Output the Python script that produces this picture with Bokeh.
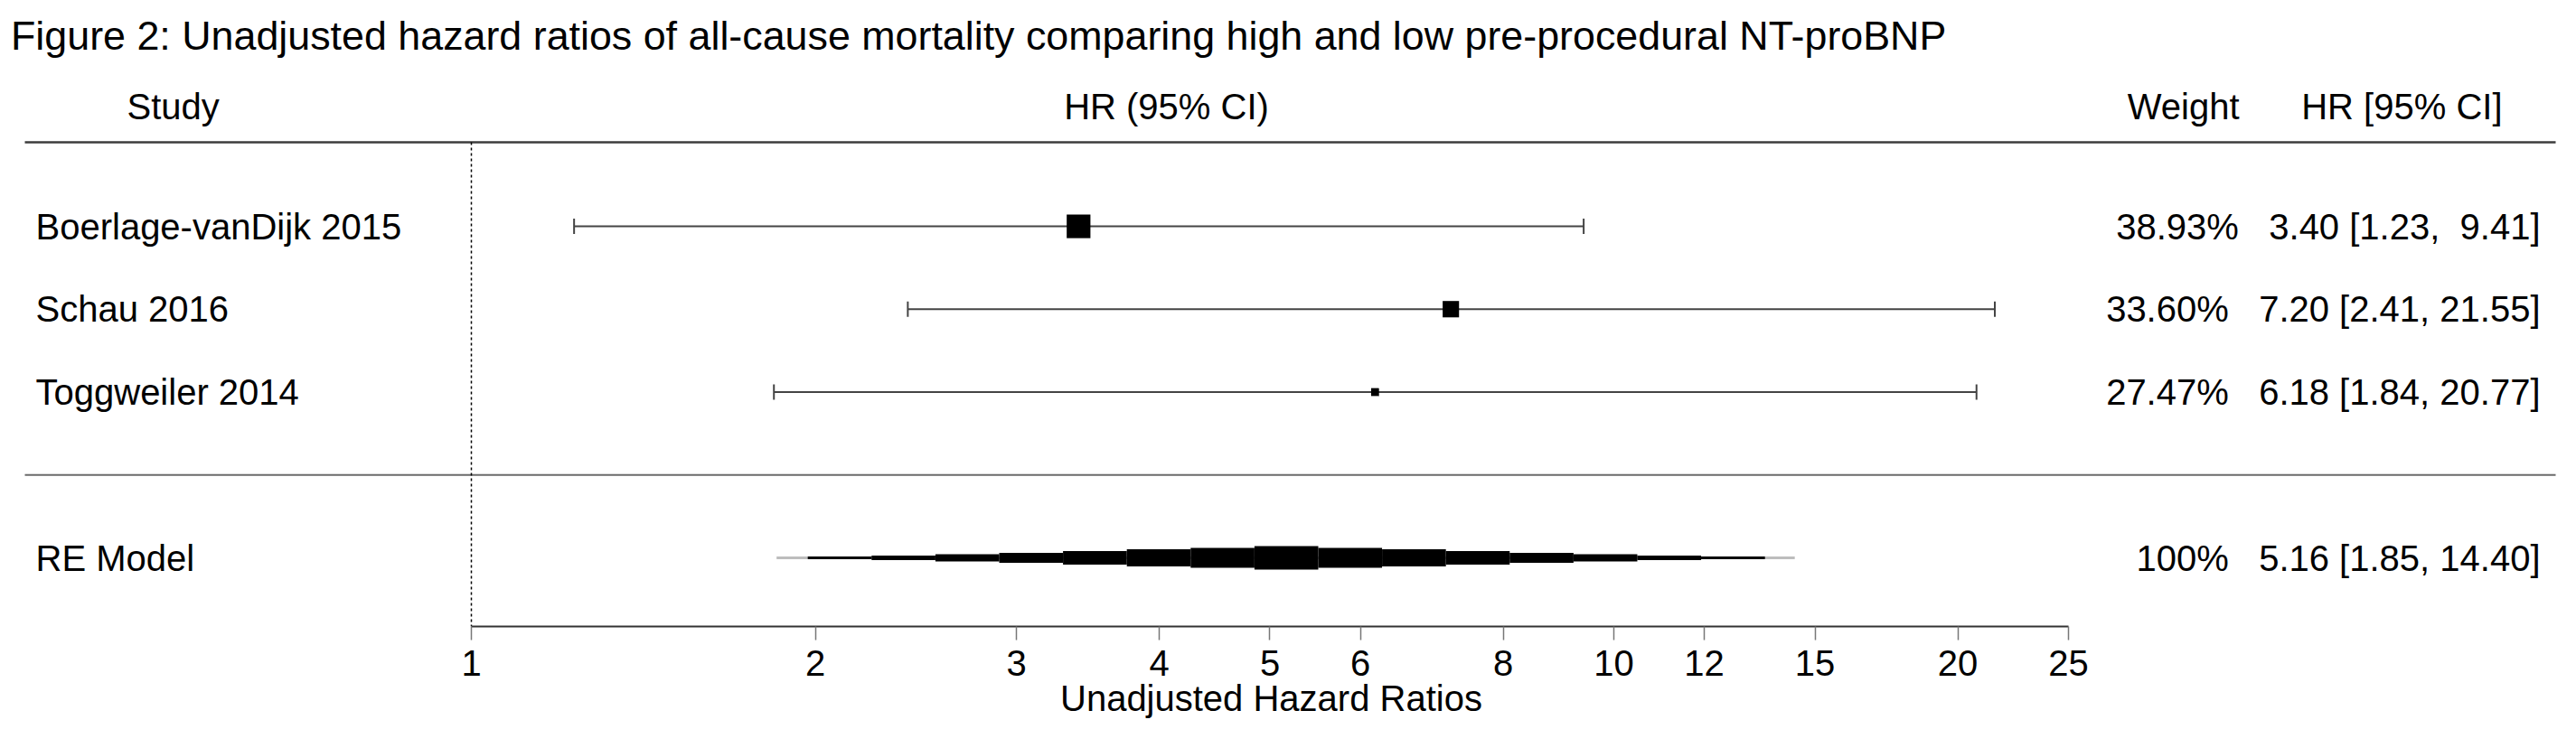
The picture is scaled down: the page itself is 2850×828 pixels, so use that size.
import re
import numpy as np
from bokeh.plotting import figure
from bokeh.models import ColumnDataSource, FixedTicker, PrintfTickFormatter, Title
from bokeh.core.properties import value
from bokeh.embed import file_html
from bokeh.resources import INLINE

# ---------------- data ----------------
TITLE = ("Figure 2: Unadjusted hazard ratios of all-cause mortality comparing "
         "high and low pre-procedural NT-proBNP")
studies = ["Boerlage-vanDijk 2015", "Schau 2016", "Toggweiler 2014"]
hr = [3.40, 7.20, 6.18]
ci_lo = [1.23, 2.41, 1.84]
ci_hi = [9.41, 21.55, 20.77]
weights = [38.93, 33.60, 27.47]
rows = [3, 2, 1]

re_label = "RE Model"
re_hr = 5.16
re_lo = 1.85
re_hi = 14.40
re_weight = "100%"
re_row = -1
re_band = [1.97, 13.56]          # extent of the black stepped summary band
re_profile = [0.12, 0.19, 0.31, 0.42, 0.58, 0.73, 0.85, 1.00,
              0.85, 0.73, 0.58, 0.42, 0.31, 0.19, 0.12]   # relative thickness

ticks = [1, 2, 3, 4, 5, 6, 8, 10, 12, 15, 20, 25]
header_labels = ["Study", "HR (95% CI)", "Weight", "HR [95% CI]"]
x_label = "Unadjusted Hazard Ratios"

# ---------------- layout helpers (page pixel -> data) ----------------
W, H = 2850, 828
X1_PX, DEC_PX = 521.0, 1264.0      # page x of HR=1, pixels per decade
Y0_PX, ROW_PX = 525.25, 91.75      # page y of row 0, pixels per row
FRAME_BOTTOM = 693.0


def xpos(px):
    return 10 ** ((px - X1_PX) / DEC_PX)


def ypos(py):
    return (Y0_PX - py) / ROW_PX


def keep_spaces(s):
    return re.sub(r" {2,}", lambda m: "\u00a0" * len(m.group()), s)


FONT = "Liberation Sans"
FS = "40px"

p = figure(width=W, height=H, x_axis_type="log",
           x_range=(xpos(0), xpos(W)),
           y_range=(ypos(FRAME_BOTTOM), ypos(0)),
           y_axis_location=None, toolbar_location=None,
           output_backend="svg",
           min_border_left=0, min_border_right=0, min_border_top=0,
           min_border_bottom=int(H - FRAME_BOTTOM))
p.outline_line_color = None
p.xgrid.visible = False
p.ygrid.visible = False
p.background_fill_color = "white"
p.border_fill_color = "white"

TXT = dict(text_baseline="middle", text_font=value(FONT), text_color="black")

# title
p.text(x=[xpos(11.5)], y=[ypos(38)], text=[TITLE], text_align="left",
       text_font_size="44.8px", **TXT)

# headers
HY = ypos(117.5)
p.text(x=[xpos(140)], y=[HY], text=[header_labels[0]], text_align="left", text_font_size=FS, **TXT)
p.text(x=[xpos(1290)], y=[HY], text=[header_labels[1]], text_align="center", text_font_size=FS, **TXT)
p.text(x=[xpos(2477)], y=[HY], text=[header_labels[2]], text_align="right", text_font_size=FS, **TXT)
p.text(x=[xpos(2768)], y=[HY], text=[header_labels[3]], text_align="right", text_font_size=FS, **TXT)

# header and separator rules
p.segment(x0=[xpos(27)], x1=[xpos(2827)], y0=[ypos(157)], y1=[ypos(157)],
          line_color="#3c3c3c", line_width=2.5)
p.segment(x0=[xpos(27)], x1=[xpos(2827)], y0=[0], y1=[0],
          line_color="#6a6a6a", line_width=2)

# reference line at HR = 1
p.segment(x0=[1], x1=[1], y0=[ypos(157)], y1=[ypos(FRAME_BOTTOM)],
          line_color="black", line_width=1.5, line_dash="3 3")

# study CIs
src = ColumnDataSource(dict(
    study=studies, hr=hr, lo=ci_lo, hi=ci_hi, y=rows,
    ylo=[r - 8.5 / ROW_PX for r in rows], yhi=[r + 8.5 / ROW_PX for r in rows],
    size=[17.5 * (0.5 + (w - min(weights)) / (max(weights) - min(weights))) for w in weights],
))
p.segment(x0="lo", x1="hi", y0="y", y1="y", source=src, line_color="#444444", line_width=2)
p.segment(x0="lo", x1="lo", y0="ylo", y1="yhi", source=src, line_color="#444444", line_width=2)
p.segment(x0="hi", x1="hi", y0="ylo", y1="yhi", source=src, line_color="#444444", line_width=2)
p.scatter(x="hr", y="y", size="size", marker="square", source=src,
          fill_color="black", line_color="black", line_width=0)

# RE summary: thin grey CI line + stepped black band
p.segment(x0=[re_lo], x1=[re_hi], y0=[re_row], y1=[re_row], line_color="#bdbdbd", line_width=3)
edges = np.geomspace(re_band[0], re_band[1], len(re_profile) + 1)
MAX_TH = 26.0 / ROW_PX
half = [v * MAX_TH / 2 for v in re_profile]
p.quad(left=edges[:-1], right=edges[1:],
       bottom=[re_row - h for h in half], top=[re_row + h for h in half],
       fill_color="black", line_color=None)

# left labels
p.text(x=[xpos(39)] * 4, y=rows + [re_row], text=studies + [re_label],
       text_align="left", text_font_size=FS, **TXT)

# right annotations
ann = [f"{w:.2f}%   {h:.2f} [{l:.2f}, {u:5.2f}]" for w, h, l, u in zip(weights, hr, ci_lo, ci_hi)]
ann.append(f"{re_weight}   {re_hr:.2f} [{re_lo:.2f}, {re_hi:5.2f}]")
ann = [keep_spaces(a) for a in ann]
p.text(x=[xpos(2810)] * 4, y=rows + [re_row], text=ann,
       text_align="right", text_font_size=FS, **TXT)

# x axis
ax = p.xaxis[0]
ax.ticker = FixedTicker(ticks=ticks, minor_ticks=[])
ax.formatter = PrintfTickFormatter(format="%d")
ax.bounds = (1, 25)
ax.axis_line_color = "#333333"
ax.axis_line_width = 2
ax.major_tick_line_color = "#777777"
ax.major_tick_line_width = 1.5
ax.major_tick_in = 0
ax.major_tick_out = 15
ax.minor_tick_line_color = None
ax.major_label_text_font = FONT
ax.major_label_text_font_size = FS
ax.major_label_text_color = "black"
ax.major_label_standoff = 11

# axis title, centred on HR = 5 (the log-midpoint of the 1..25 axis)
t = Title(text=x_label, align="left", vertical_align="top", standoff=0,
          text_font=FONT, text_font_size=FS, text_font_style="normal",
          text_color="black")
t.offset = (X1_PX + DEC_PX * np.log10(5)) - 232
p.add_layout(t, "below")

open("out.html", "w").write(file_html(p, INLINE))
